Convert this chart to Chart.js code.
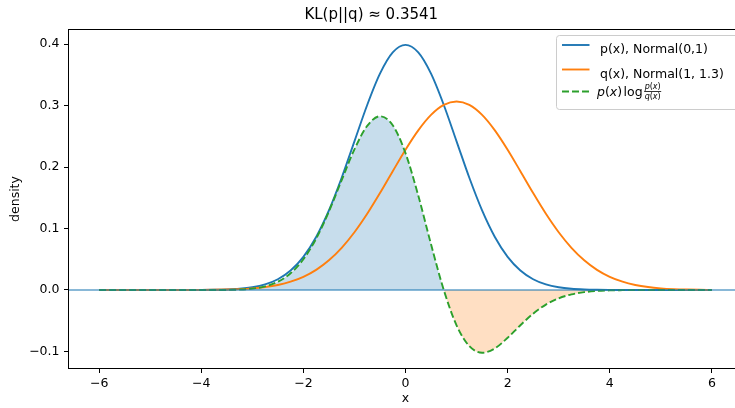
<!DOCTYPE html>
<html><head><meta charset="utf-8">
<script src="https://cdn.jsdelivr.net/npm/chart.js@4/dist/chart.umd.min.js"></script>
<style>
html,body{margin:0;padding:0;overflow:hidden;background:#fff;width:735px;height:408px}
#wrap{position:absolute;left:0;top:0;width:811px;height:408px}
</style>
</head><body><div id="wrap"><canvas id="c" width="811" height="408"></canvas></div>
<script>
// ---- data ----
const xs = [-6,-5.75,-5.5,-5.25,-5,-4.75,-4.5,-4.25,-4,-3.75,-3.5,-3.25,-3,-2.75,-2.5,-2.25,-2,-1.75,-1.5,-1.25,-1,-0.75,-0.5,-0.25,
  0,0.25,0.5,0.75,1,1.25,1.5,1.75,2,2.25,2.5,2.75,3,3.25,3.5,3.75,4,4.25,4.5,4.75,5,5.25,5.5,5.75,6];
const pVals = [0,0,0,0,0.000001,0.000005,0.000016,0.000048,0.000134,0.000353,0.000873,0.002029,0.004432,0.009094,0.017528,0.031740,
  0.053991,0.086277,0.129518,0.182649,0.241971,0.301137,0.352065,0.386668,0.398942,0.386668,0.352065,0.301137,0.241971,0.182649,
  0.129518,0.086277,0.053991,0.031740,0.017528,0.009094,0.004432,0.002029,0.000873,0.000353,0.000134,0.000048,0.000016,0.000005,
  0.000001,0,0,0,0];
const qVals = [0.0000002,0.0000004,0.0000011,0.0000029,0.0000073,0.0000173,0.000040,0.000088,0.000188,0.000387,0.000768,0.001466,
  0.00270,0.00479,0.00818,0.01348,0.02141,0.03276,0.04831,0.06862,0.09398,0.12401,0.15771,0.19328,0.22829,0.25983,0.28500,0.30126,
  0.30688,0.30126,0.28500,0.25983,0.22829,0.19328,0.15771,0.12401,0.09398,0.06862,0.04831,0.03276,0.02141,0.01348,0.00818,0.00479,
  0.00270,0.001466,0.000768,0.000387,0.000188];
const klVals = [0,0,-0.0000003,-0.0000008,-0.0000024,-0.0000063,-0.0000146,-0.0000293,-0.0000457,-0.0000330,0.000112,0.000660,
  0.002199,0.005835,0.013350,0.027173,0.049946,0.083563,0.127765,0.178796,0.228856,0.267163,0.282723,0.268112,0.222698,0.153712,
  0.074399,-0.000120,-0.057502,-0.091398,-0.102147,-0.095117,-0.077843,-0.057342,-0.038508,-0.023761,-0.013536,-0.007144,-0.003504,
  -0.001600,-0.000679,-0.000269,-0.000100,-0.000035,-0.000011,-0.000003,-0.000001,0,0];
const xTicks = [-6,-4,-2,0,2,4,6];
const yTicks = [-0.1,0,0.1,0.2,0.3,0.4];
const seriesNames = ['p(x), Normal(0,1)', 'q(x), Normal(1, 1.3)', 'p(x) log p(x)/q(x)'];
const titleText = 'KL(p||q) \u2248 0.3541';
const xLabel = 'x';
const yLabel = 'density';

// ---- styling ----
const FONT = 'DejaVu Sans';
Chart.defaults.font.family = FONT;
Chart.defaults.color = '#000';
const BLUE = '#1f77b4', ORANGE = '#ff7f0e', GREEN = '#2ca02c';

function fmt(v, d) {
  if (Math.abs(v) < 1e-9) v = 0;
  return (v < 0 ? '\u2212' : '') + Math.abs(v).toFixed(d);
}
function pts(vals) { return xs.map((x, i) => ({x: x, y: vals[i]})); }

function drawRuns(ctx, runs, x, base, size) {
  ctx.textBaseline = 'alphabetic';
  ctx.textAlign = 'left';
  for (const [t, it] of runs) {
    ctx.font = (it ? 'italic ' : '') + size + 'px "' + FONT + '"';
    ctx.fillText(t, x, base);
    x += ctx.measureText(t).width;
  }
  return x;
}
function runsWidth(ctx, runs, size) {
  let w = 0;
  for (const [t, it] of runs) {
    ctx.font = (it ? 'italic ' : '') + size + 'px "' + FONT + '"';
    w += ctx.measureText(t).width;
  }
  return w;
}

const decor = {
  id: 'decor',
  afterDatasetsDraw(chart) {
    const {ctx, chartArea: a, scales: {y}} = chart;
    ctx.save();
    ctx.beginPath();
    ctx.rect(a.left, a.top, a.right - a.left, a.bottom - a.top);
    ctx.clip();
    const y0 = y.getPixelForValue(0);
    ctx.strokeStyle = 'rgba(31,119,180,0.7)';
    ctx.lineWidth = 1.5;
    ctx.beginPath(); ctx.moveTo(a.left, y0); ctx.lineTo(a.right, y0); ctx.stroke();
    ctx.restore();
  },
  afterDraw(chart) {
    const {ctx, chartArea: a} = chart;
    ctx.save();
    // spines
    ctx.strokeStyle = '#000'; ctx.lineWidth = 1;
    ctx.strokeRect(a.left, a.top, a.right - a.left, a.bottom - a.top);
    // legend
    const L = a.right - 186, T = a.top + 6, W = 182, H = 74, r = 3;
    ctx.beginPath();
    ctx.moveTo(L + r, T); ctx.lineTo(L + W - r, T); ctx.arcTo(L + W, T, L + W, T + r, r);
    ctx.lineTo(L + W, T + H - r); ctx.arcTo(L + W, T + H, L + W - r, T + H, r);
    ctx.lineTo(L + r, T + H); ctx.arcTo(L, T + H, L, T + H - r, r);
    ctx.lineTo(L, T + r); ctx.arcTo(L, T, L + r, T, r); ctx.closePath();
    ctx.fillStyle = 'rgba(255,255,255,0.8)'; ctx.fill();
    ctx.strokeStyle = '#cccccc'; ctx.lineWidth = 1; ctx.stroke();
    const hx0 = L + 5.5, hx1 = L + 33, tx = L + 43.5;
    const rows = [
      {c: BLUE, dash: [], ly: T + 9.5, base: T + 17.5},
      {c: ORANGE, dash: [], ly: T + 34, base: T + 42},
      {c: GREEN, dash: [7, 3], ly: T + 56, base: T + 60}
    ];
    rows.forEach((rw, i) => {
      ctx.strokeStyle = rw.c; ctx.lineWidth = 1.9; ctx.setLineDash(rw.dash);
      ctx.beginPath(); ctx.moveTo(hx0, rw.ly); ctx.lineTo(hx1, rw.ly); ctx.stroke();
      ctx.setLineDash([]);
      ctx.fillStyle = '#000';
      if (i < 2) {
        ctx.font = '12.5px "' + FONT + '"';
        ctx.textBaseline = 'alphabetic'; ctx.textAlign = 'left';
        ctx.fillText(seriesNames[i], tx, rw.base);
      } else {
        let x = drawRuns(ctx, [['p', 1], ['(', 0], ['x', 1], [')', 0]], tx - 3, rw.base, 12.5);
        x = drawRuns(ctx, [['log', 0]], x + 1.5, rw.base, 12.5);
        const num = [['p', 1], ['(', 0], ['x', 1], [')', 0]];
        const den = [['q', 1], ['(', 0], ['x', 1], [')', 0]];
        const fs = 8;
        const nw = runsWidth(ctx, num, fs), dw = runsWidth(ctx, den, fs);
        const bw = Math.max(nw, dw) + 1;
        const fx = x + 1.5;
        const barY = rw.base - 4;
        drawRuns(ctx, num, fx + (bw - nw) / 2, barY - 2.2, fs);
        drawRuns(ctx, den, fx + (bw - dw) / 2, barY + 7.3, fs);
        ctx.strokeStyle = '#000'; ctx.lineWidth = 0.8;
        ctx.beginPath(); ctx.moveTo(fx, barY); ctx.lineTo(fx + bw, barY); ctx.stroke();
      }
    });
    ctx.restore();
  }
};

new Chart(document.getElementById('c'), {
  type: 'line',
  data: {
    datasets: [
      {label: seriesNames[0], data: pts(pVals), borderColor: BLUE, borderWidth: 1.9, pointRadius: 0,
       cubicInterpolationMode: 'monotone', fill: false, order: 3},
      {label: seriesNames[1], data: pts(qVals), borderColor: ORANGE, borderWidth: 1.9, pointRadius: 0,
       cubicInterpolationMode: 'monotone', fill: false, order: 2},
      {label: seriesNames[2], data: pts(klVals), borderColor: GREEN, borderWidth: 1.9, borderDash: [7, 3], pointRadius: 0,
       cubicInterpolationMode: 'monotone', order: 1,
       fill: {target: 'origin', above: 'rgba(31,119,180,0.25)', below: 'rgba(255,127,14,0.25)'}}
    ]
  },
  options: {
    responsive: false, animation: false, devicePixelRatio: 1,
    layout: {padding: {left: 0, right: 68.5, top: 0, bottom: 0}},
    plugins: {
      filler: {drawTime: 'beforeDatasetsDraw'},
      legend: {display: false}, tooltip: {enabled: false},
      title: {display: true, text: titleText, color: '#000', font: {family: FONT, size: 15, weight: 'normal'},
              padding: {top: 6, bottom: 5.5}}
    },
    scales: {
      x: {
        type: 'linear', min: -6.6, max: 6.6,
        afterBuildTicks: s => { s.ticks = xTicks.map(v => ({value: v})); },
        afterFit: s => { s.height = 39.5; },
        grid: {drawOnChartArea: false, drawTicks: true, tickLength: 4.5, tickColor: '#000', tickWidth: 1},
        border: {display: false},
        ticks: {padding: 3, color: '#000', font: {size: 12.5}, maxRotation: 0, autoSkip: false, callback: v => fmt(v, 0)},
        title: {display: true, text: xLabel, color: '#000', font: {size: 12.5}, padding: {top: 0, bottom: 1.5}}
      },
      y: {
        type: 'linear', min: -0.1278, max: 0.424,
        afterBuildTicks: s => { s.ticks = yTicks.map(v => ({value: v})); },
        afterFit: s => { s.width = 68.5; },
        grid: {drawOnChartArea: false, drawTicks: true, tickLength: 4.5, tickColor: '#000', tickWidth: 1},
        border: {display: false},
        ticks: {padding: 4.5, color: '#000', font: {size: 12.5}, autoSkip: false, callback: v => fmt(v, 1)},
        title: {display: true, text: yLabel, color: '#000', font: {size: 12.5}, padding: {top: 8, bottom: 0}}
      }
    }
  },
  plugins: [decor]
});
</script>
</body></html>
